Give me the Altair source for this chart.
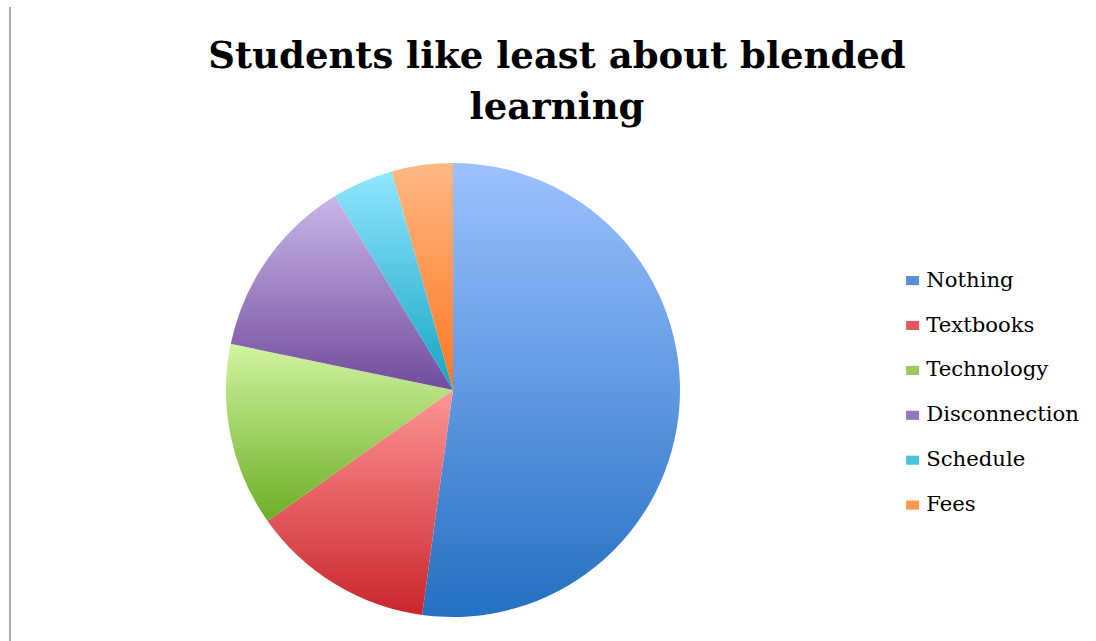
import altair as alt
import pandas as pd

categories = ["Nothing", "Textbooks", "Technology", "Disconnection", "Schedule", "Fees"]
values = [12, 3, 3, 3, 1, 1]
top_colors = ["#9CC1FF", "#FF9696", "#D2F4A0", "#CAB6E8", "#90E6FF", "#FFB884"]
bottom_colors = ["#2470C2", "#C9262C", "#6CAE26", "#704C9C", "#16A4C2", "#FF7620"]
legend_colors = ["#5B8DD8", "#E0585A", "#9CCB5C", "#9276BE", "#4CC2E2", "#FC9850"]

df = pd.DataFrame({"category": categories, "value": values, "order": list(range(len(categories)))})

PAD_TOP = 135
CX, CY, R = 453, 390 - PAD_TOP, 227

base = alt.Chart(df).transform_joinaggregate(
    total="sum(value)"
).transform_window(
    cum="sum(value)", sort=[alt.SortField("order")], frame=[None, 0]
).transform_calculate(
    start="(datum.cum - datum.value) / datum.total",
    end="datum.cum / datum.total",
)

theta_scale = alt.Scale(domain=[0, 1])

layers = []
for cat, c0, c1 in zip(categories, top_colors, bottom_colors):
    grad = alt.Gradient(
        gradient="linear",
        x1=0, y1=0, x2=0, y2=1,
        stops=[alt.GradientStop(color=c0, offset=0), alt.GradientStop(color=c1, offset=1)],
    )
    layers.append(
        base.transform_filter(alt.datum.category == cat)
        .mark_arc(fill=grad, x=CX, y=CY, outerRadius=R)
        .encode(theta=alt.Theta("start:Q", scale=theta_scale), theta2="end:Q")
    )

legend_layer = base.mark_arc(opacity=0, x=CX, y=CY, outerRadius=R).encode(
    theta=alt.Theta("start:Q", scale=theta_scale),
    theta2="end:Q",
    color=alt.Color(
        "category:N",
        scale=alt.Scale(domain=categories, range=legend_colors),
        sort=categories,
        legend=alt.Legend(
            title=None,
            orient="none",
            legendX=902,
            legendY=282 - PAD_TOP - 12,
            symbolType="M-1,-0.7L1,-0.7L1,0.7L-1,0.7Z",
            symbolSize=169,
            symbolOpacity=1,
            symbolStrokeWidth=0,
            labelFont="DejaVu Serif",
            labelFontSize=21.2,
            labelColor="#000000",
            labelOffset=3,
            rowPadding=22.9,
            labelLimit=300,
        ),
    ),
)

border = alt.Chart(df).mark_rule(color="#A8A8A8", strokeWidth=2).encode(
    x=alt.value(10), y=alt.value(7 - PAD_TOP), y2=alt.value(641 - PAD_TOP)
)

chart = alt.layer(border, *layers, legend_layer).properties(
    width=1096,
    height=641 - PAD_TOP,
    autosize=alt.AutoSizeParams(type="none"),
    padding={"top": PAD_TOP, "left": 0, "right": 0, "bottom": 0},
    title=alt.TitleParams(
        text=["Students like least about blended", "learning"],
        font="DejaVu Serif",
        fontSize=37,
        fontWeight="bold",
        color="#000000",
        anchor="start",
        align="center",
        baseline="alphabetic",
        dx=557,
        dy=150,
        lineHeight=51,
        offset=0,
    ),
).configure_view(stroke=None)

chart.save("out.html", embed_options={"renderer": "svg", "actions": False})
